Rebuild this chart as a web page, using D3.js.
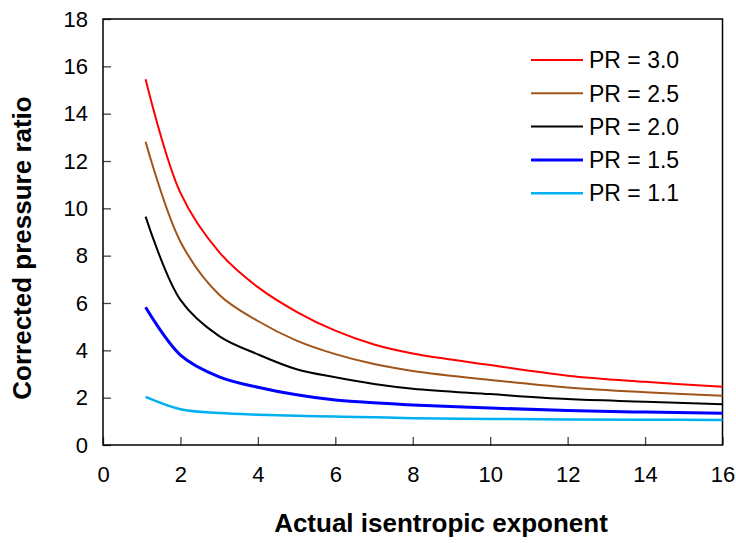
<!DOCTYPE html>
<html><head><meta charset="utf-8">
<script src="https://cdn.jsdelivr.net/npm/d3@7"></script>
<style>body{margin:0;background:#fff}svg{display:block}text{font-family:Arial,"Liberation Sans",sans-serif}</style>
</head><body><svg id="c" width="736" height="543"></svg>
<script>
const kValues = [1.1, 2, 3, 4, 5, 6, 7, 8, 10, 12, 14, 16];
const pr30 = [15.45, 10.65, 8.15, 6.67, 5.63, 4.83, 4.25, 3.87, 3.38, 2.93, 2.67, 2.46];
const pr25 = [12.81, 8.59, 6.35, 5.24, 4.41, 3.84, 3.42, 3.13, 2.75, 2.43, 2.23, 2.08];
const pr20 = [9.65, 6.13, 4.60, 3.83, 3.20, 2.86, 2.58, 2.38, 2.15, 1.94, 1.83, 1.72];
const pr15 = [5.82, 3.80, 2.88, 2.44, 2.12, 1.90, 1.79, 1.69, 1.56, 1.46, 1.39, 1.34];
const pr11 = [2.03, 1.51, 1.35, 1.28, 1.24, 1.20, 1.17, 1.13, 1.10, 1.08, 1.07, 1.06];
const seriesNames = ["PR = 3.0", "PR = 2.5", "PR = 2.0", "PR = 1.5", "PR = 1.1"];
const seriesValues = [pr30, pr25, pr20, pr15, pr11];
const seriesColors = ["#ff0000", "#a0541a", "#000000", "#0000ff", "#00b0f0"];
const seriesWidths = [2, 2, 2, 3, 2.5];
const xTicks = [0, 2, 4, 6, 8, 10, 12, 14, 16];
const yTicks = [0, 2, 4, 6, 8, 10, 12, 14, 16, 18];

const svg = d3.select("#c");
const L = 103, R = 722.5, T = 19, B = 445;
const x = d3.scaleLinear().domain([0, 16]).range([L, R]);
const y = d3.scaleLinear().domain([0, 18]).range([B, T]);

const xa = svg.append("g").attr("transform", `translate(0,${B})`)
  .call(d3.axisBottom(x).tickValues(xTicks).tickSize(-8).tickPadding(21).tickFormat(d3.format("d")));
const ya = svg.append("g").attr("transform", `translate(${L},0)`)
  .call(d3.axisLeft(y).tickValues(yTicks).tickSize(-8).tickPadding(15).tickFormat(d3.format("d")));
[xa, ya].forEach(a => {
  a.select(".domain").remove();
  a.selectAll(".tick line").attr("stroke", "#444").attr("stroke-width", 1.3);
  a.selectAll(".tick text").attr("font-size", 22).attr("fill", "#000");
});
xa.selectAll(".tick text").attr("dy", "0.71em");
svg.append("rect").attr("x", L).attr("y", T).attr("width", R - L).attr("height", B - T)
  .attr("fill", "none").attr("stroke", "#000").attr("stroke-width", 1.5);

const line = d3.line().x((d, i) => x(kValues[i])).y(d => y(d)).curve(d3.curveCatmullRom.alpha(0.5));
seriesValues.forEach((vals, i) => {
  svg.append("path").datum(vals).attr("d", line).attr("fill", "none")
    .attr("stroke", seriesColors[i]).attr("stroke-width", seriesWidths[i]);
});

const lg = svg.append("g");
seriesNames.forEach((n, i) => {
  const yy = 60 + i * 33.3;
  lg.append("line").attr("x1", 531).attr("x2", 583).attr("y1", yy).attr("y2", yy)
    .attr("stroke", seriesColors[i]).attr("stroke-width", seriesWidths[i]);
  lg.append("text").attr("x", 589).attr("y", yy).attr("dy", "0.36em")
    .attr("font-size", 23).text(n);
});

svg.append("text").attr("x", 441).attr("y", 532).attr("text-anchor", "middle")
  .attr("font-size", 26).attr("font-weight", "bold").text("Actual isentropic exponent");
svg.append("text").attr("transform", `translate(31,248) rotate(-90)`)
  .attr("text-anchor", "middle").attr("font-size", 26).attr("font-weight", "bold")
  .text("Corrected pressure ratio");
</script></body></html>
